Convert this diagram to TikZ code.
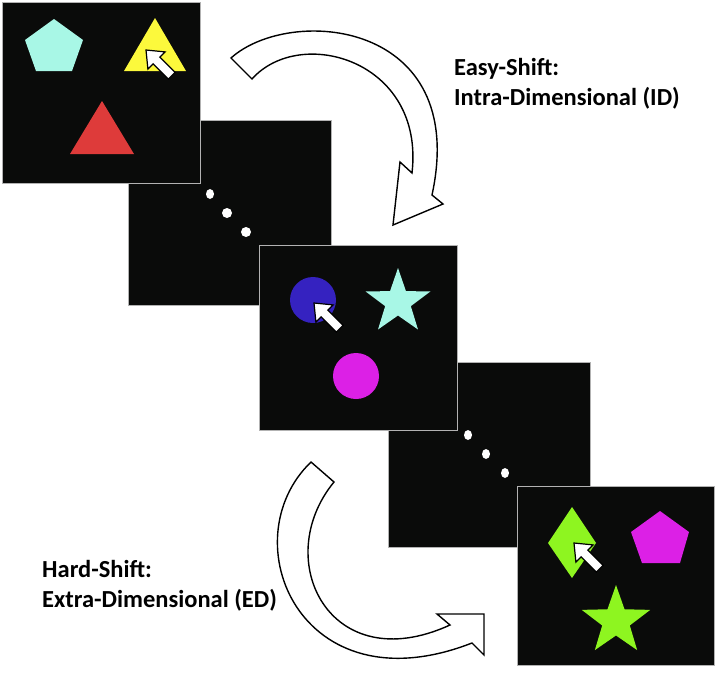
\documentclass[tikz,border=0pt]{standalone}
\usepackage{fontspec}
\setmainfont{Carlito}
\begin{document}
\begin{tikzpicture}[x=1pt,y=-1pt,
  panel/.style={fill=pblack,draw=gray!60,line width=1pt},
  dot/.style={fill=white},
  bigarrow/.style={fill=white,draw=black,line width=1.4pt,line join=miter},
  lbl/.style={anchor=base west,font=\bfseries\fontsize{24.5}{28}\selectfont,inner sep=0pt},
  cursor/.pic={\draw[fill=white,draw=black,line width=1.2pt,rotate=-45,scale=1.35]
     (0,0)--(11,-9)--(11,-3.5)--(27,-3.5)--(27,3.5)--(11,3.5)--(11,9)--cycle;}]
\definecolor{pblack}{HTML}{0A0B0A}
\definecolor{cyanS}{HTML}{A8F7E6}
\definecolor{yel}{HTML}{FCF93C}
\definecolor{redS}{HTML}{DE3B3A}
\definecolor{blueS}{HTML}{3522C0}
\definecolor{mag}{HTML}{DC20E6}
\definecolor{grn}{HTML}{8EF520}
\useasboundingbox (0,0) rectangle (716,675);
% panel 2
\draw[panel] (128,120) rectangle (331,305);
\fill[dot] (210,194) ellipse (4 and 5);
\fill[dot] (227,213) ellipse (5 and 5);
\fill[dot] (246,232) ellipse (5 and 5);
% panel 1
\draw[panel] (2,2) rectangle (200,183);
\fill[cyanS] (54,19)--(83,40)--(72,71)--(36,71)--(25,40)--cycle;
\fill[yel] (155,18)--(186,71)--(124,71)--cycle;
\fill[redS] (102,101)--(134,154)--(70,154)--cycle;
\pic at (146,50) {cursor};
% panel 4
\draw[panel] (388,362) rectangle (590,547);
\fill[dot] (468,435) ellipse (4 and 5);
\fill[dot] (486,454) ellipse (4 and 5);
\fill[dot] (505,473) ellipse (4 and 5);
% panel 3
\draw[panel] (259,245) rectangle (457,430);
\fill[blueS] (313,300) circle (23);
\fill[cyanS] (398,302) +(-90:34) \foreach \i in {1,...,9}{ -- +(-90+\i*36:{mod(\i,2)==1?13.5:34})} -- cycle;
\fill[mag] (356,376) circle (23);
\pic at (314,303) {cursor};
% panel 5
\draw[panel] (517,486) rectangle (714,665);
\fill[grn] (572,507)--(596,543)--(572,578)--(548,543)--cycle;
\fill[mag] (660,511)--(689,532)--(680,563)--(642,563)--(631,532)--cycle;
\fill[grn] (616,621) +(-90:36) \foreach \i in {1,...,9}{ -- +(-90+\i*36:{mod(\i,2)==1?14.5:36})} -- cycle;
\pic at (574,543) {cursor};
% big arrows
\draw[bigarrow] (231,58) .. controls (290,5) and (470,20) .. (432,195)
  -- (443,204) -- (393,225) -- (400,162) -- (412,173)
  .. controls (425,60) and (300,25) .. (252,79) -- cycle;
\draw[bigarrow] (311,462) .. controls (230,540) and (300,710) .. (472,643)
  -- (484,655) -- (484,614) -- (437,614) -- (450,625)
  .. controls (330,680) and (270,560) .. (334,482) -- cycle;
% labels
\node[lbl] (easy) at (454,75) {Easy-Shift:};
\node[lbl] (intra) at (454,105) {Intra-Dimensional (ID)};
\node[lbl] (hard) at (42,577) {Hard-Shift:};
\node[lbl] (extra) at (42,607) {Extra-Dimensional (ED)};
\end{tikzpicture}
\end{document}
